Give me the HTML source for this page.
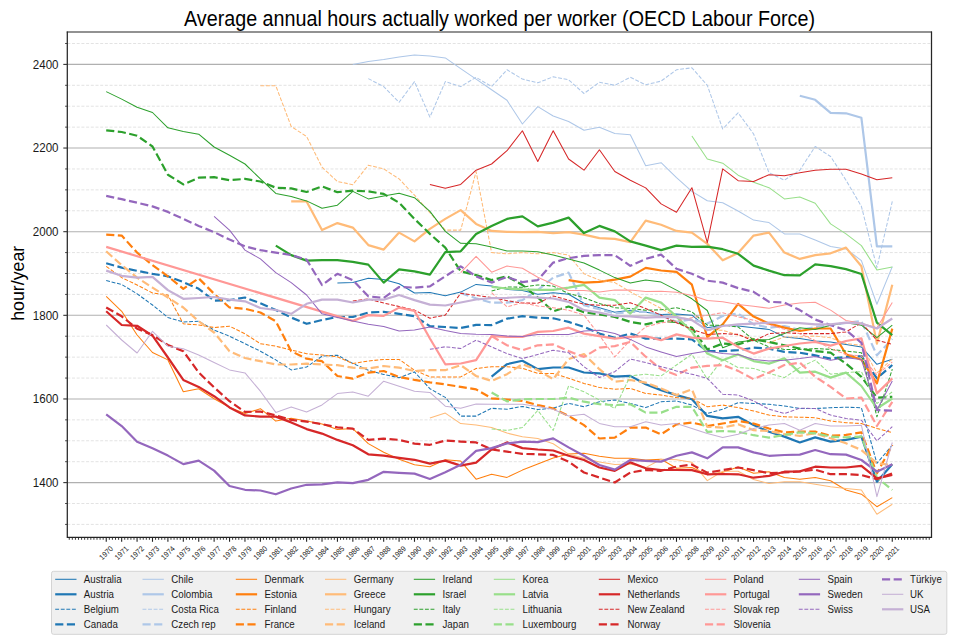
<!DOCTYPE html><html><head><meta charset="utf-8"><style>html,body{margin:0;padding:0;background:#fff;width:960px;height:640px;overflow:hidden}svg{display:block;font-family:"Liberation Sans",sans-serif}</style></head><body>
<svg width="960" height="640" viewBox="0 0 960 640">
<text x="499.5" y="25.5" font-size="21.3" text-anchor="middle" fill="#000" textLength="631" lengthAdjust="spacingAndGlyphs">Average annual hours actually worked per worker (OECD Labour Force)</text>
<line x1="67.3" x2="931.5" y1="524.42" y2="524.42" stroke="#e0e0e0" stroke-width="0.9" stroke-dasharray="3 1.7"/>
<line x1="67.3" x2="931.5" y1="503.51" y2="503.51" stroke="#e0e0e0" stroke-width="0.9" stroke-dasharray="3 1.7"/>
<line x1="67.3" x2="931.5" y1="461.69" y2="461.69" stroke="#e0e0e0" stroke-width="0.9" stroke-dasharray="3 1.7"/>
<line x1="67.3" x2="931.5" y1="440.78" y2="440.78" stroke="#e0e0e0" stroke-width="0.9" stroke-dasharray="3 1.7"/>
<line x1="67.3" x2="931.5" y1="419.87" y2="419.87" stroke="#e0e0e0" stroke-width="0.9" stroke-dasharray="3 1.7"/>
<line x1="67.3" x2="931.5" y1="378.05" y2="378.05" stroke="#e0e0e0" stroke-width="0.9" stroke-dasharray="3 1.7"/>
<line x1="67.3" x2="931.5" y1="357.14" y2="357.14" stroke="#e0e0e0" stroke-width="0.9" stroke-dasharray="3 1.7"/>
<line x1="67.3" x2="931.5" y1="336.23" y2="336.23" stroke="#e0e0e0" stroke-width="0.9" stroke-dasharray="3 1.7"/>
<line x1="67.3" x2="931.5" y1="294.41" y2="294.41" stroke="#e0e0e0" stroke-width="0.9" stroke-dasharray="3 1.7"/>
<line x1="67.3" x2="931.5" y1="273.50" y2="273.50" stroke="#e0e0e0" stroke-width="0.9" stroke-dasharray="3 1.7"/>
<line x1="67.3" x2="931.5" y1="252.59" y2="252.59" stroke="#e0e0e0" stroke-width="0.9" stroke-dasharray="3 1.7"/>
<line x1="67.3" x2="931.5" y1="210.77" y2="210.77" stroke="#e0e0e0" stroke-width="0.9" stroke-dasharray="3 1.7"/>
<line x1="67.3" x2="931.5" y1="189.86" y2="189.86" stroke="#e0e0e0" stroke-width="0.9" stroke-dasharray="3 1.7"/>
<line x1="67.3" x2="931.5" y1="168.95" y2="168.95" stroke="#e0e0e0" stroke-width="0.9" stroke-dasharray="3 1.7"/>
<line x1="67.3" x2="931.5" y1="127.13" y2="127.13" stroke="#e0e0e0" stroke-width="0.9" stroke-dasharray="3 1.7"/>
<line x1="67.3" x2="931.5" y1="106.22" y2="106.22" stroke="#e0e0e0" stroke-width="0.9" stroke-dasharray="3 1.7"/>
<line x1="67.3" x2="931.5" y1="85.31" y2="85.31" stroke="#e0e0e0" stroke-width="0.9" stroke-dasharray="3 1.7"/>
<line x1="67.3" x2="931.5" y1="43.49" y2="43.49" stroke="#e0e0e0" stroke-width="0.9" stroke-dasharray="3 1.7"/>
<line x1="67.3" x2="931.5" y1="482.60" y2="482.60" stroke="#b0b0b0" stroke-width="1.1"/>
<line x1="67.3" x2="931.5" y1="398.96" y2="398.96" stroke="#b0b0b0" stroke-width="1.1"/>
<line x1="67.3" x2="931.5" y1="315.32" y2="315.32" stroke="#b0b0b0" stroke-width="1.1"/>
<line x1="67.3" x2="931.5" y1="231.68" y2="231.68" stroke="#b0b0b0" stroke-width="1.1"/>
<line x1="67.3" x2="931.5" y1="148.04" y2="148.04" stroke="#b0b0b0" stroke-width="1.1"/>
<line x1="67.3" x2="931.5" y1="64.40" y2="64.40" stroke="#b0b0b0" stroke-width="1.1"/>
<defs><clipPath id="c"><rect x="67.3" y="32.2" width="864.2" height="505.1"/></clipPath></defs>
<g clip-path="url(#c)" fill="none" stroke-linejoin="round" stroke-linecap="butt">
<polyline points="337.4,283.1 352.8,282.6 368.3,278.3 383.7,279.6 399.1,283.8 414.5,293.0 429.9,292.6 445.3,295.8 460.7,292.1 476.1,284.4 491.6,286.1 507.0,289.3 522.4,290.5 537.8,294.3 553.2,292.7 568.6,294.3 584.0,303.2 599.4,307.7 614.8,312.2 630.3,310.2 645.7,312.2 661.1,314.4 676.5,313.9 691.9,315.2 707.3,327.7 722.7,325.2 738.1,326.0 753.6,327.7 769.0,329.4 784.4,336.9 799.8,338.6 815.2,341.1 830.6,341.9 846.0,344.4 861.4,346.9 876.9,364.3 892.3,359.3" stroke="#1f77b4" stroke-width="1.05"/>
<polyline points="491.6,376.7 507.0,364.2 522.4,360.8 537.8,369.2 553.2,367.5 568.6,367.5 584.0,372.5 599.4,373.4 614.8,376.7 630.3,375.9 645.7,384.2 661.1,390.1 676.5,395.1 691.9,399.3 707.3,415.9 722.7,418.4 738.1,416.8 753.6,425.1 769.0,431.8 784.4,436.6 799.8,442.5 815.2,437.4 830.6,441.6 846.0,439.9 861.4,436.6 876.9,481.7 892.3,464.2" stroke="#1f77b4" stroke-width="2.20"/>
<polyline points="106.2,280.6 121.7,284.5 137.1,293.8 152.5,305.0 167.9,317.5 183.3,322.0 198.7,321.3 214.1,330.0 229.5,336.2 245.0,343.7 260.4,351.2 275.8,359.9 291.2,369.9 306.6,367.0 322.0,356.2 337.4,355.2 352.8,363.5 368.3,370.2 383.7,374.4 399.1,377.7 414.5,371.9 429.9,388.7 445.3,397.4 460.7,416.1 476.1,416.1 491.6,408.3 507.0,409.3 522.4,406.4 537.8,409.6 553.2,408.1 568.6,403.4 584.0,406.7 599.4,401.7 614.8,400.0 630.3,403.4 645.7,407.6 661.1,401.8 676.5,400.9 691.9,405.1 707.3,413.5 722.7,409.3 738.1,402.6 753.6,403.4 769.0,404.3 784.4,406.0 799.8,408.5 815.2,408.5 830.6,407.7 846.0,407.2 861.4,407.7 876.9,463.3 892.3,445.0" stroke="#1f77b4" stroke-width="1.05" stroke-dasharray="3.89 1.68"/>
<polyline points="106.2,263.3 121.7,267.6 137.1,270.8 152.5,273.8 167.9,276.3 183.3,282.1 198.7,288.8 214.1,300.6 229.5,300.1 245.0,297.5 260.4,303.3 275.8,310.0 291.2,317.5 306.6,323.8 322.0,320.0 337.4,317.0 352.8,317.0 368.3,312.5 383.7,311.8 399.1,313.8 414.5,316.3 429.9,326.2 445.3,327.0 460.7,328.0 476.1,324.9 491.6,325.1 507.0,318.7 522.4,316.2 537.8,317.6 553.2,318.3 568.6,321.9 584.0,326.9 599.4,333.6 614.8,337.7 630.3,333.6 645.7,338.6 661.1,338.6 676.5,338.6 691.9,339.4 707.3,351.1 722.7,351.1 738.1,350.2 753.6,347.7 769.0,348.6 784.4,351.9 799.8,352.7 815.2,355.3 830.6,358.6 846.0,356.9 861.4,356.1 876.9,378.4 892.3,365.0" stroke="#1f77b4" stroke-width="2.20" stroke-dasharray="8.14 3.52"/>
<polyline points="352.8,64.6 368.3,61.6 383.7,59.6 399.1,57.1 414.5,54.9 429.9,56.1 445.3,57.9 460.7,68.6 476.1,79.1 491.6,89.8 507.0,100.3 522.4,124.0 537.8,106.6 553.2,116.0 568.6,121.5 584.0,130.3 599.4,127.3 614.8,133.5 630.3,134.7 645.7,165.7 661.1,162.7 676.5,177.7 691.9,191.4 707.3,200.7 722.7,202.7 738.1,211.0 753.6,220.1 769.0,222.6 784.4,233.9 799.8,233.9 815.2,240.1 830.6,246.4 846.0,248.9 861.4,260.6 876.9,304.3 892.3,266.6" stroke="#aec7e8" stroke-width="1.05"/>
<polyline points="799.8,95.8 815.2,99.8 830.6,112.8 846.0,113.3 861.4,117.8 876.9,246.4 892.3,246.4" stroke="#aec7e8" stroke-width="2.20"/>
<polyline points="368.3,78.6 383.7,86.6 399.1,102.3 414.5,81.6 429.9,117.1 445.3,81.6 460.7,86.6 476.1,77.3 491.6,86.6 507.0,69.8 522.4,79.1 537.8,82.8 553.2,76.8 568.6,79.8 584.0,93.5 599.4,82.3 614.8,85.3 630.3,77.3 645.7,84.8 661.1,81.1 676.5,69.8 691.9,67.8 707.3,85.3 722.7,129.0 738.1,112.8 753.6,134.0 769.0,172.7 784.4,180.2 799.8,170.2 815.2,146.5 830.6,156.5 846.0,180.2 861.4,206.4 876.9,267.6 892.3,201.4" stroke="#aec7e8" stroke-width="1.05" stroke-dasharray="3.89 1.68"/>
<polyline points="460.7,292.9 476.1,298.4 491.6,302.7 507.0,302.7 522.4,300.2 537.8,290.1 553.2,277.6 568.6,272.6 584.0,305.2 599.4,309.3 614.8,313.5 630.3,311.8 645.7,311.8 661.1,315.2 676.5,321.9 691.9,319.4 707.3,323.6 722.7,316.0 738.1,313.5 753.6,324.4 769.0,327.7 784.4,326.0 799.8,330.0 815.2,327.0 830.6,325.0 846.0,323.0 861.4,321.0 876.9,355.3 892.3,339.0" stroke="#aec7e8" stroke-width="2.20" stroke-dasharray="8.14 3.52"/>
<polyline points="106.2,296.3 121.7,311.3 137.1,335.0 152.5,352.5 167.9,359.9 183.3,391.7 198.7,388.7 214.1,398.7 229.5,407.4 245.0,413.6 260.4,408.7 275.8,421.1 291.2,418.2 306.6,421.1 322.0,424.1 337.4,429.4 352.8,428.6 368.3,443.6 383.7,452.3 399.1,459.3 414.5,464.8 429.9,466.8 445.3,459.8 460.7,461.1 476.1,479.2 491.6,474.2 507.0,477.4 522.4,470.1 537.8,464.1 553.2,458.1 568.6,454.1 584.0,453.3 599.4,456.3 614.8,458.3 630.3,458.3 645.7,460.1 661.1,459.2 676.5,468.3 691.9,467.5 707.3,474.8 722.7,472.2 738.1,467.0 753.6,473.2 769.0,471.7 784.4,477.5 799.8,479.2 815.2,477.5 830.6,480.8 846.0,490.0 861.4,494.2 876.9,506.7 892.3,497.6" stroke="#ff7f0e" stroke-width="1.05"/>
<polyline points="568.6,280.1 584.0,282.6 599.4,281.9 614.8,279.7 630.3,276.6 645.7,267.9 661.1,270.5 676.5,271.9 691.9,284.7 707.3,337.2 722.7,324.3 738.1,303.8 753.6,316.6 769.0,323.6 784.4,327.6 799.8,331.0 815.2,328.5 830.6,328.5 846.0,354.3 861.4,359.7 876.9,383.4 892.3,328.6" stroke="#ff7f0e" stroke-width="2.20"/>
<polyline points="106.2,266.3 121.7,277.6 137.1,285.0 152.5,293.0 167.9,295.0 183.3,323.8 198.7,325.0 214.1,327.5 229.5,326.2 245.0,333.8 260.4,343.7 275.8,346.2 291.2,350.0 306.6,353.7 322.0,355.0 337.4,356.8 352.8,363.5 368.3,361.0 383.7,359.4 399.1,359.4 414.5,370.2 429.9,376.9 445.3,376.9 460.7,376.9 476.1,368.5 491.6,366.7 507.0,366.7 522.4,368.3 537.8,373.4 553.2,373.4 568.6,378.3 584.0,383.4 599.4,387.5 614.8,389.2 630.3,388.4 645.7,393.4 661.1,395.1 676.5,397.6 691.9,398.4 707.3,406.8 722.7,405.1 738.1,407.6 753.6,411.0 769.0,415.1 784.4,416.8 799.8,417.2 815.2,417.7 830.6,421.0 846.0,422.7 861.4,423.5 876.9,428.4 892.3,432.5" stroke="#ff7f0e" stroke-width="1.05" stroke-dasharray="3.89 1.68"/>
<polyline points="106.2,234.6 121.7,235.6 137.1,252.6 152.5,265.1 167.9,276.3 183.3,288.8 198.7,278.3 214.1,293.8 229.5,307.5 245.0,308.8 260.4,312.5 275.8,321.3 291.2,351.2 306.6,358.7 322.0,361.2 337.4,376.0 352.8,378.6 368.3,372.7 383.7,371.0 399.1,376.9 414.5,379.9 429.9,382.4 445.3,384.4 460.7,386.9 476.1,389.4 491.6,398.3 507.0,399.6 522.4,401.0 537.8,405.0 553.2,408.5 568.6,415.9 584.0,425.1 599.4,438.5 614.8,437.6 630.3,427.6 645.7,427.6 661.1,434.3 676.5,424.3 691.9,422.6 707.3,426.0 722.7,423.5 738.1,421.0 753.6,423.5 769.0,428.5 784.4,432.4 799.8,431.6 815.2,431.6 830.6,435.8 846.0,434.9 861.4,432.4 876.9,473.4 892.3,445.0" stroke="#ff7f0e" stroke-width="2.20" stroke-dasharray="8.14 3.52"/>
<polyline points="429.9,417.9 445.3,413.1 460.7,423.6 476.1,424.9 491.6,427.4 507.0,433.1 522.4,436.8 537.8,438.6 553.2,443.8 568.6,454.1 584.0,458.3 599.4,461.9 614.8,464.6 630.3,464.1 645.7,467.6 661.1,459.2 676.5,459.8 691.9,462.3 707.3,480.6 722.7,471.2 738.1,471.2 753.6,479.5 769.0,483.6 784.4,481.7 799.8,481.7 815.2,484.2 830.6,486.7 846.0,488.4 861.4,490.0 876.9,514.3 892.3,504.2" stroke="#ffbb78" stroke-width="1.05"/>
<polyline points="291.2,201.4 306.6,201.4 322.0,230.1 337.4,223.1 352.8,227.6 368.3,245.1 383.7,249.6 399.1,232.6 414.5,241.4 429.9,228.9 445.3,218.9 460.7,210.1 476.1,223.9 491.6,230.9 507.0,231.9 522.4,232.1 537.8,231.9 553.2,233.1 568.6,232.1 584.0,234.6 599.4,238.1 614.8,238.9 630.3,242.1 645.7,220.6 661.1,224.7 676.5,230.9 691.9,232.6 707.3,243.8 722.7,260.3 738.1,253.1 753.6,235.6 769.0,232.6 784.4,252.6 799.8,258.9 815.2,255.1 830.6,253.3 846.0,247.6 861.4,266.3 876.9,343.6 892.3,284.7" stroke="#ffbb78" stroke-width="2.20"/>
<polyline points="260.4,85.8 275.8,85.8 291.2,126.5 306.6,136.5 322.0,167.2 337.4,181.5 352.8,184.7 368.3,165.2 383.7,168.9 399.1,178.9 414.5,195.2 429.9,212.7 445.3,230.1 460.7,230.1 476.1,171.5 491.6,252.6 507.0,253.8 522.4,252.6 537.8,253.8 553.2,252.6 568.6,255.1 584.0,273.8 599.4,280.1 614.8,282.6 630.3,291.8 645.7,300.2 661.1,308.5 676.5,316.9 691.9,319.4 707.3,330.2 722.7,330.2 738.1,335.2 753.6,338.6 769.0,342.8 784.4,336.9 799.8,336.9 815.2,336.1 830.6,337.7 846.0,343.6 861.4,345.3 876.9,372.9 892.3,359.0" stroke="#ffbb78" stroke-width="1.05" stroke-dasharray="3.89 1.68"/>
<polyline points="106.2,251.3 121.7,265.1 137.1,277.6 152.5,287.6 167.9,297.5 183.3,307.5 198.7,321.3 214.1,332.5 229.5,351.2 245.0,358.0 260.4,361.2 275.8,364.5 291.2,364.5 306.6,363.7 322.0,364.5 337.4,365.2 352.8,367.7 368.3,368.5 383.7,366.0 399.1,367.7 414.5,371.0 429.9,370.2 445.3,370.2 460.7,365.2 476.1,376.0 491.6,380.9 507.0,374.2 522.4,364.2 537.8,370.0 553.2,379.2 568.6,359.1 584.0,354.1 599.4,369.2 614.8,381.7 630.3,380.0 645.7,382.6 661.1,388.4 676.5,395.1 691.9,389.3 707.3,426.8 722.7,427.6 738.1,424.3 753.6,430.2 769.0,431.0 784.4,434.1 799.8,435.8 815.2,433.3 830.6,438.3 846.0,443.3 861.4,450.0 876.9,463.3 892.3,465.0" stroke="#ffbb78" stroke-width="2.20" stroke-dasharray="8.14 3.52"/>
<polyline points="106.2,91.6 121.7,99.1 137.1,107.3 152.5,112.5 167.9,127.8 183.3,131.5 198.7,134.2 214.1,147.0 229.5,155.2 245.0,164.0 260.4,178.9 275.8,193.4 291.2,196.4 306.6,200.9 322.0,208.2 337.4,205.2 352.8,191.4 368.3,198.9 383.7,195.9 399.1,193.2 414.5,197.7 429.9,211.4 445.3,231.4 460.7,243.3 476.1,243.8 491.6,247.1 507.0,250.9 522.4,250.9 537.8,251.8 553.2,255.1 568.6,258.9 584.0,263.1 599.4,270.1 614.8,277.6 630.3,283.1 645.7,280.1 661.1,282.1 676.5,290.1 691.9,298.8 707.3,310.5 722.7,347.7 738.1,341.9 753.6,340.2 769.0,339.4 784.4,333.6 799.8,327.7 815.2,329.4 830.6,325.2 846.0,322.7 861.4,325.2 876.9,337.7 892.3,325.2" stroke="#2ca02c" stroke-width="1.05"/>
<polyline points="275.8,245.6 291.2,255.1 306.6,260.6 322.0,260.1 337.4,260.1 352.8,261.8 368.3,264.6 383.7,282.6 399.1,269.3 414.5,271.3 429.9,274.6 445.3,252.1 460.7,251.3 476.1,233.9 491.6,225.9 507.0,218.9 522.4,216.4 537.8,226.4 553.2,222.6 568.6,217.6 584.0,233.1 599.4,225.9 614.8,231.4 630.3,241.4 645.7,245.6 661.1,250.1 676.5,245.6 691.9,246.9 707.3,246.6 722.7,249.2 738.1,253.8 753.6,265.6 769.0,270.6 784.4,275.2 799.8,275.3 815.2,264.3 830.6,266.1 846.0,269.1 861.4,274.0 876.9,322.6 892.3,335.1" stroke="#2ca02c" stroke-width="2.20"/>
<polyline points="491.6,290.9 507.0,287.0 522.4,287.2 537.8,284.9 553.2,286.1 568.6,293.5 584.0,297.7 599.4,303.5 614.8,307.7 630.3,308.5 645.7,310.2 661.1,309.8 676.5,307.7 691.9,311.8 707.3,325.2 722.7,325.2 738.1,326.9 753.6,340.2 769.0,346.9 784.4,349.4 799.8,349.4 815.2,348.6 830.6,349.4 846.0,351.1 861.4,352.7 876.9,416.8 892.3,369.2" stroke="#2ca02c" stroke-width="1.05" stroke-dasharray="3.89 1.68"/>
<polyline points="106.2,130.3 121.7,132.0 137.1,135.7 152.5,146.5 167.9,174.7 183.3,184.4 198.7,177.7 214.1,177.2 229.5,180.2 245.0,178.9 260.4,181.5 275.8,187.7 291.2,188.4 306.6,192.0 322.0,186.4 337.4,192.2 352.8,190.7 368.3,191.4 383.7,193.9 399.1,202.7 414.5,218.9 429.9,233.9 445.3,247.6 460.7,271.3 476.1,275.1 491.6,280.1 507.0,276.3 522.4,285.0 537.8,297.5 553.2,311.3 568.6,306.5 584.0,312.2 599.4,314.4 614.8,316.9 630.3,321.9 645.7,324.4 661.1,321.0 676.5,321.9 691.9,327.7 707.3,349.4 722.7,343.6 738.1,344.4 753.6,339.4 769.0,341.9 784.4,345.3 799.8,348.6 815.2,351.1 830.6,352.7 846.0,363.6 861.4,376.8 876.9,397.6 892.3,396.8" stroke="#2ca02c" stroke-width="2.20" stroke-dasharray="8.14 3.52"/>
<polyline points="691.9,136.0 707.3,159.0 722.7,163.2 738.1,175.2 753.6,182.2 769.0,187.7 784.4,198.9 799.8,196.9 815.2,203.2 830.6,223.9 846.0,233.9 861.4,245.6 876.9,269.9 892.3,267.1" stroke="#98df8a" stroke-width="1.05"/>
<polyline points="491.6,286.9 507.0,288.5 522.4,289.4 537.8,289.9 553.2,289.8 568.6,287.6 584.0,284.9 599.4,297.6 614.8,300.1 630.3,313.6 645.7,297.6 661.1,302.6 676.5,316.6 691.9,331.8 707.3,353.6 722.7,360.3 738.1,354.4 753.6,361.1 769.0,363.6 784.4,358.4 799.8,372.6 815.2,371.7 830.6,377.6 846.0,372.6 861.4,386.0 876.9,408.5 892.3,398.5" stroke="#98df8a" stroke-width="2.20"/>
<polyline points="491.6,428.9 507.0,430.4 522.4,427.5 537.8,410.4 553.2,430.4 568.6,385.9 584.0,391.7 599.4,400.0 614.8,408.4 630.3,375.9 645.7,374.2 661.1,375.9 676.5,365.0 691.9,354.2 707.3,379.2 722.7,359.2 738.1,367.6 753.6,368.4 769.0,373.4 784.4,377.6 799.8,367.6 815.2,360.1 830.6,374.2 846.0,372.6 861.4,371.7 876.9,403.5 892.3,391.8" stroke="#98df8a" stroke-width="1.05" stroke-dasharray="3.89 1.68"/>
<polyline points="491.6,392.5 507.0,401.4 522.4,399.3 537.8,399.0 553.2,399.0 568.6,397.6 584.0,401.7 599.4,404.2 614.8,405.1 630.3,404.2 645.7,412.6 661.1,412.6 676.5,406.8 691.9,406.8 707.3,431.8 722.7,431.0 738.1,431.8 753.6,435.2 769.0,437.6 784.4,434.9 799.8,432.4 815.2,433.3 830.6,436.6 846.0,437.4 861.4,436.6 876.9,477.5 892.3,490.0" stroke="#98df8a" stroke-width="2.20" stroke-dasharray="8.14 3.52"/>
<polyline points="429.9,184.4 445.3,188.2 460.7,184.4 476.1,170.2 491.6,164.0 507.0,150.7 522.4,130.8 537.8,161.5 553.2,130.8 568.6,159.0 584.0,170.2 599.4,149.8 614.8,171.5 630.3,180.2 645.7,187.9 661.1,203.9 676.5,212.2 691.9,187.7 707.3,242.6 722.7,168.9 738.1,180.7 753.6,181.5 769.0,174.7 784.4,175.7 799.8,172.7 815.2,170.2 830.6,169.2 846.0,169.2 861.4,174.0 876.9,179.7 892.3,177.7" stroke="#d62728" stroke-width="1.05"/>
<polyline points="106.2,311.3 121.7,325.0 137.1,325.8 152.5,335.7 167.9,357.5 183.3,379.9 198.7,386.9 214.1,396.2 229.5,407.4 245.0,415.4 260.4,416.6 275.8,416.6 291.2,422.4 306.6,429.1 322.0,433.6 337.4,439.9 352.8,445.3 368.3,454.3 383.7,455.6 399.1,457.8 414.5,459.8 429.9,463.6 445.3,460.6 460.7,465.6 476.1,462.7 491.6,449.3 507.0,442.4 522.4,448.1 537.8,449.5 553.2,450.5 568.6,455.8 584.0,460.0 599.4,467.5 614.8,470.8 630.3,462.4 645.7,468.3 661.1,470.0 676.5,470.0 691.9,470.1 707.3,474.3 722.7,474.0 738.1,474.3 753.6,477.7 769.0,475.9 784.4,471.7 799.8,471.4 815.2,466.7 830.6,467.5 846.0,467.5 861.4,465.8 876.9,478.3 892.3,475.0" stroke="#d62728" stroke-width="2.20"/>
<polyline points="352.8,301.1 368.3,299.0 383.7,303.0 399.1,306.5 414.5,310.1 429.9,318.2 445.3,315.1 460.7,293.2 476.1,295.5 491.6,297.4 507.0,300.7 522.4,303.0 537.8,303.2 553.2,296.0 568.6,300.2 584.0,304.3 599.4,305.2 614.8,305.2 630.3,302.7 645.7,308.5 661.1,315.2 676.5,322.7 691.9,329.4 707.3,334.4 722.7,333.6 738.1,334.4 753.6,341.1 769.0,333.6 784.4,332.7 799.8,333.6 815.2,333.6 830.6,333.6 846.0,331.9 861.4,322.7 876.9,340.2 892.3,344.4" stroke="#d62728" stroke-width="1.05" stroke-dasharray="3.89 1.68"/>
<polyline points="106.2,307.5 121.7,316.3 137.1,328.7 152.5,335.0 167.9,345.0 183.3,351.2 198.7,372.4 214.1,387.4 229.5,401.2 245.0,411.9 260.4,411.6 275.8,415.4 291.2,419.9 306.6,421.6 322.0,424.1 337.4,427.4 352.8,428.6 368.3,439.9 383.7,438.6 399.1,439.9 414.5,443.6 429.9,444.8 445.3,440.6 460.7,441.6 476.1,442.4 491.6,449.5 507.0,451.6 522.4,453.9 537.8,454.3 553.2,454.9 568.6,461.6 584.0,472.5 599.4,477.5 614.8,482.5 630.3,472.5 645.7,470.0 661.1,470.8 676.5,466.6 691.9,464.6 707.3,472.7 722.7,470.1 738.1,467.5 753.6,470.1 769.0,473.2 784.4,472.5 799.8,471.4 815.2,469.7 830.6,474.2 846.0,474.2 861.4,475.0 876.9,479.2 892.3,473.4" stroke="#d62728" stroke-width="2.20" stroke-dasharray="8.14 3.52"/>
<polyline points="460.7,272.6 476.1,256.4 491.6,272.2 507.0,266.1 522.4,268.3 537.8,277.2 553.2,284.2 568.6,290.4 584.0,290.4 599.4,291.9 614.8,290.1 630.3,290.1 645.7,291.4 661.1,291.3 676.5,292.2 691.9,295.5 707.3,300.5 722.7,301.8 738.1,304.5 753.6,306.3 769.0,308.3 784.4,305.1 799.8,302.9 815.2,302.2 830.6,310.1 846.0,320.5 861.4,323.2 876.9,327.7 892.3,302.6" stroke="#ff9896" stroke-width="1.05"/>
<polyline points="106.2,246.9 352.8,320.9 368.3,315.1 383.7,315.9 399.1,307.6 414.5,310.9 429.9,338.5 445.3,364.3 460.7,363.5 476.1,360.2 491.6,336.1 507.0,336.9 522.4,336.9 537.8,331.9 553.2,331.0 568.6,327.7 584.0,333.6 599.4,336.1 614.8,338.6 630.3,336.9 645.7,336.1 661.1,340.2 676.5,334.4 691.9,337.7 707.3,338.6 722.7,337.7 738.1,346.9 753.6,353.6 769.0,348.6 784.4,346.0 799.8,343.5 815.2,342.0 830.6,345.6 846.0,341.0 861.4,338.4 876.9,393.4 892.3,378.4" stroke="#ff9896" stroke-width="2.20"/>
<polyline points="491.6,292.7 507.0,306.8 522.4,302.7 537.8,306.0 553.2,307.7 568.6,310.2 584.0,315.2 599.4,335.2 614.8,356.9 630.3,340.2 645.7,326.9 661.1,322.7 676.5,321.0 691.9,317.7 707.3,315.2 722.7,312.7 738.1,316.9 753.6,320.2 799.8,333.7 815.2,340.6 830.6,348.6 846.0,354.4 861.4,356.0 876.9,375.0 892.3,361.9" stroke="#ff9896" stroke-width="1.05" stroke-dasharray="3.89 1.68"/>
<polyline points="491.6,336.1 507.0,345.3 522.4,350.2 537.8,345.3 553.2,344.4 568.6,351.1 584.0,356.9 599.4,347.7 614.8,346.1 630.3,341.9 645.7,356.7 661.1,369.2 676.5,375.0 691.9,367.6 707.3,365.9 722.7,365.0 738.1,370.9 753.6,379.2 769.0,372.5 784.4,365.0 799.8,362.6 815.2,376.8 830.6,386.8 846.0,398.5 861.4,397.6 876.9,426.0 892.3,401.8" stroke="#ff9896" stroke-width="2.20" stroke-dasharray="8.14 3.52"/>
<polyline points="214.1,216.4 229.5,230.1 245.0,250.1 260.4,258.9 275.8,272.6 291.2,282.6 306.6,295.0 322.0,313.8 337.4,317.6 352.8,320.9 368.3,324.3 383.7,326.4 399.1,331.0 414.5,330.1 429.9,327.1 445.3,330.5 460.7,333.5 476.1,334.3 491.6,334.4 507.0,336.1 522.4,336.6 537.8,334.4 553.2,334.4 568.6,334.4 584.0,331.0 599.4,330.2 614.8,333.6 630.3,339.4 645.7,346.9 661.1,351.9 676.5,356.6 691.9,353.6 707.3,351.1 722.7,353.6 738.1,354.4 753.6,359.4 769.0,361.1 784.4,360.3 799.8,358.6 815.2,356.4 830.6,360.3 846.0,357.8 861.4,359.4 876.9,410.1 892.3,380.9" stroke="#9467bd" stroke-width="1.05"/>
<polyline points="106.2,414.3 121.7,426.1 137.1,441.7 152.5,448.3 167.9,455.6 183.3,464.1 198.7,460.6 214.1,470.6 229.5,486.0 245.0,489.8 260.4,490.5 275.8,494.3 291.2,488.5 306.6,484.8 322.0,484.3 337.4,482.3 352.8,483.1 368.3,479.8 383.7,471.8 399.1,472.8 414.5,473.6 429.9,479.0 445.3,472.3 460.7,464.8 476.1,450.9 491.6,448.1 507.0,443.4 522.4,441.7 537.8,442.1 553.2,438.4 568.6,447.4 584.0,455.8 599.4,465.0 614.8,469.6 630.3,460.0 645.7,460.8 661.1,461.6 676.5,455.8 691.9,452.4 707.3,458.3 722.7,447.4 738.1,447.4 753.6,452.4 769.0,455.8 784.4,455.0 799.8,454.6 815.2,450.0 830.6,454.2 846.0,454.6 861.4,460.0 876.9,471.7 892.3,464.2" stroke="#9467bd" stroke-width="2.20"/>
<polyline points="429.9,349.3 445.3,346.8 460.7,348.5 476.1,340.2 491.6,346.9 507.0,353.6 522.4,358.6 537.8,354.4 553.2,350.2 568.6,352.7 584.0,366.7 599.4,377.5 614.8,371.7 630.3,359.1 645.7,362.5 661.1,366.7 676.5,370.9 691.9,374.2 707.3,378.4 722.7,394.2 738.1,395.1 753.6,400.9 769.0,409.3 784.4,413.5 799.8,408.2 815.2,408.5 830.6,415.1 846.0,418.5 861.4,420.2 876.9,440.8 892.3,426.7" stroke="#9467bd" stroke-width="1.05" stroke-dasharray="3.89 1.68"/>
<polyline points="106.2,195.9 121.7,199.2 137.1,202.7 152.5,206.4 167.9,211.9 183.3,218.9 198.7,225.9 214.1,232.1 229.5,239.6 245.0,246.4 260.4,250.1 275.8,252.6 291.2,255.1 306.6,259.6 322.0,285.0 337.4,273.8 352.8,280.1 368.3,296.3 383.7,298.0 399.1,287.0 414.5,287.6 429.9,286.3 445.3,276.3 460.7,266.3 476.1,276.3 491.6,282.6 507.0,277.1 522.4,282.1 537.8,280.1 553.2,262.6 568.6,258.1 584.0,255.9 599.4,255.1 614.8,255.1 630.3,265.8 645.7,258.9 661.1,254.6 676.5,268.8 691.9,273.8 707.3,280.7 722.7,282.6 738.1,288.1 753.6,291.8 769.0,301.8 784.4,302.6 799.8,310.1 815.2,319.5 830.6,325.1 846.0,330.2 861.4,342.8 876.9,410.1 892.3,410.6" stroke="#9467bd" stroke-width="2.20" stroke-dasharray="8.14 3.52"/>
<polyline points="106.2,325.0 121.7,340.0 137.1,353.0 152.5,331.3 167.9,346.2 183.3,348.7 198.7,355.0 214.1,362.5 229.5,369.9 245.0,372.9 260.4,391.2 275.8,412.4 291.2,406.9 306.6,411.9 322.0,404.9 337.4,393.6 352.8,391.9 368.3,396.2 383.7,381.2 399.1,386.2 414.5,391.2 429.9,392.4 445.3,406.2 460.7,408.2 476.1,404.1 491.6,404.3 507.0,404.3 522.4,404.3 537.8,406.4 553.2,409.3 568.6,415.9 584.0,414.3 599.4,423.4 614.8,426.8 630.3,426.8 645.7,421.8 661.1,425.1 676.5,423.5 691.9,428.5 707.3,433.5 722.7,437.6 738.1,434.3 753.6,428.5 769.0,425.1 784.4,423.5 799.8,430.2 815.2,423.5 830.6,426.0 846.0,426.0 861.4,425.2 876.9,496.7 892.3,442.5" stroke="#c5b0d5" stroke-width="1.05"/>
<polyline points="106.2,270.6 121.7,275.8 137.1,277.6 152.5,276.8 167.9,290.1 183.3,298.8 198.7,298.0 214.1,297.0 229.5,299.6 245.0,301.3 260.4,308.0 275.8,310.0 291.2,313.8 306.6,303.8 322.0,299.6 337.4,299.6 352.8,302.5 368.3,299.6 383.7,299.6 399.1,295.0 414.5,300.1 429.9,304.6 445.3,305.5 460.7,302.5 476.1,299.5 491.6,298.2 507.0,297.8 522.4,297.0 537.8,297.6 553.2,298.5 568.6,301.9 584.0,310.2 599.4,312.7 614.8,316.0 630.3,316.5 645.7,317.7 661.1,316.9 676.5,317.2 691.9,320.2 707.3,330.2 722.7,326.0 738.1,324.4 753.6,323.6 769.0,322.7 784.4,322.7 799.8,323.2 815.2,324.4 830.6,324.4 846.0,322.7 861.4,323.6 876.9,328.5 892.3,318.5" stroke="#c5b0d5" stroke-width="2.20"/>
</g>
<path d="M67.30 32.20 V537.30 H931.50 V32.20" fill="none" stroke="#262626" stroke-width="1.25" stroke-linejoin="miter" stroke-linecap="square"/>
<line x1="67.30" x2="931.50" y1="32.0" y2="32.0" stroke="#262626" stroke-width="1.1" stroke-linecap="square"/>
<line x1="65.1" x2="67.3" y1="524.42" y2="524.42" stroke="#333" stroke-width="0.9"/>
<line x1="65.1" x2="67.3" y1="503.51" y2="503.51" stroke="#333" stroke-width="0.9"/>
<line x1="63.3" x2="67.3" y1="482.60" y2="482.60" stroke="#333" stroke-width="1.1"/>
<text x="58.5" y="486.80" font-size="12.6" text-anchor="end" textLength="25.7" lengthAdjust="spacingAndGlyphs" fill="#1a1a1a">1400</text>
<line x1="65.1" x2="67.3" y1="461.69" y2="461.69" stroke="#333" stroke-width="0.9"/>
<line x1="65.1" x2="67.3" y1="440.78" y2="440.78" stroke="#333" stroke-width="0.9"/>
<line x1="65.1" x2="67.3" y1="419.87" y2="419.87" stroke="#333" stroke-width="0.9"/>
<line x1="63.3" x2="67.3" y1="398.96" y2="398.96" stroke="#333" stroke-width="1.1"/>
<text x="58.5" y="403.16" font-size="12.6" text-anchor="end" textLength="25.7" lengthAdjust="spacingAndGlyphs" fill="#1a1a1a">1600</text>
<line x1="65.1" x2="67.3" y1="378.05" y2="378.05" stroke="#333" stroke-width="0.9"/>
<line x1="65.1" x2="67.3" y1="357.14" y2="357.14" stroke="#333" stroke-width="0.9"/>
<line x1="65.1" x2="67.3" y1="336.23" y2="336.23" stroke="#333" stroke-width="0.9"/>
<line x1="63.3" x2="67.3" y1="315.32" y2="315.32" stroke="#333" stroke-width="1.1"/>
<text x="58.5" y="319.52" font-size="12.6" text-anchor="end" textLength="25.7" lengthAdjust="spacingAndGlyphs" fill="#1a1a1a">1800</text>
<line x1="65.1" x2="67.3" y1="294.41" y2="294.41" stroke="#333" stroke-width="0.9"/>
<line x1="65.1" x2="67.3" y1="273.50" y2="273.50" stroke="#333" stroke-width="0.9"/>
<line x1="65.1" x2="67.3" y1="252.59" y2="252.59" stroke="#333" stroke-width="0.9"/>
<line x1="63.3" x2="67.3" y1="231.68" y2="231.68" stroke="#333" stroke-width="1.1"/>
<text x="58.5" y="235.88" font-size="12.6" text-anchor="end" textLength="25.7" lengthAdjust="spacingAndGlyphs" fill="#1a1a1a">2000</text>
<line x1="65.1" x2="67.3" y1="210.77" y2="210.77" stroke="#333" stroke-width="0.9"/>
<line x1="65.1" x2="67.3" y1="189.86" y2="189.86" stroke="#333" stroke-width="0.9"/>
<line x1="65.1" x2="67.3" y1="168.95" y2="168.95" stroke="#333" stroke-width="0.9"/>
<line x1="63.3" x2="67.3" y1="148.04" y2="148.04" stroke="#333" stroke-width="1.1"/>
<text x="58.5" y="152.24" font-size="12.6" text-anchor="end" textLength="25.7" lengthAdjust="spacingAndGlyphs" fill="#1a1a1a">2200</text>
<line x1="65.1" x2="67.3" y1="127.13" y2="127.13" stroke="#333" stroke-width="0.9"/>
<line x1="65.1" x2="67.3" y1="106.22" y2="106.22" stroke="#333" stroke-width="0.9"/>
<line x1="65.1" x2="67.3" y1="85.31" y2="85.31" stroke="#333" stroke-width="0.9"/>
<line x1="63.3" x2="67.3" y1="64.40" y2="64.40" stroke="#333" stroke-width="1.1"/>
<text x="58.5" y="68.60" font-size="12.6" text-anchor="end" textLength="25.7" lengthAdjust="spacingAndGlyphs" fill="#1a1a1a">2400</text>
<line x1="65.1" x2="67.3" y1="43.49" y2="43.49" stroke="#333" stroke-width="0.9"/>
<line x1="69.26" x2="69.26" y1="537.3" y2="539.8" stroke="#222" stroke-width="0.9"/>
<line x1="72.34" x2="72.34" y1="537.3" y2="539.8" stroke="#222" stroke-width="0.9"/>
<line x1="75.43" x2="75.43" y1="537.3" y2="539.8" stroke="#222" stroke-width="0.9"/>
<line x1="78.51" x2="78.51" y1="537.3" y2="539.8" stroke="#222" stroke-width="0.9"/>
<line x1="81.59" x2="81.59" y1="537.3" y2="539.8" stroke="#222" stroke-width="0.9"/>
<line x1="84.67" x2="84.67" y1="537.3" y2="539.8" stroke="#222" stroke-width="0.9"/>
<line x1="87.76" x2="87.76" y1="537.3" y2="539.8" stroke="#222" stroke-width="0.9"/>
<line x1="90.84" x2="90.84" y1="537.3" y2="539.8" stroke="#222" stroke-width="0.9"/>
<line x1="93.92" x2="93.92" y1="537.3" y2="539.8" stroke="#222" stroke-width="0.9"/>
<line x1="97.00" x2="97.00" y1="537.3" y2="539.8" stroke="#222" stroke-width="0.9"/>
<line x1="100.09" x2="100.09" y1="537.3" y2="539.8" stroke="#222" stroke-width="0.9"/>
<line x1="103.17" x2="103.17" y1="537.3" y2="539.8" stroke="#222" stroke-width="0.9"/>
<line x1="106.25" x2="106.25" y1="537.3" y2="541.8" stroke="#222" stroke-width="1.1"/>
<line x1="109.33" x2="109.33" y1="537.3" y2="539.8" stroke="#222" stroke-width="0.9"/>
<line x1="112.41" x2="112.41" y1="537.3" y2="539.8" stroke="#222" stroke-width="0.9"/>
<line x1="115.50" x2="115.50" y1="537.3" y2="539.8" stroke="#222" stroke-width="0.9"/>
<line x1="118.58" x2="118.58" y1="537.3" y2="539.8" stroke="#222" stroke-width="0.9"/>
<line x1="121.66" x2="121.66" y1="537.3" y2="541.8" stroke="#222" stroke-width="1.1"/>
<line x1="124.74" x2="124.74" y1="537.3" y2="539.8" stroke="#222" stroke-width="0.9"/>
<line x1="127.83" x2="127.83" y1="537.3" y2="539.8" stroke="#222" stroke-width="0.9"/>
<line x1="130.91" x2="130.91" y1="537.3" y2="539.8" stroke="#222" stroke-width="0.9"/>
<line x1="133.99" x2="133.99" y1="537.3" y2="539.8" stroke="#222" stroke-width="0.9"/>
<line x1="137.07" x2="137.07" y1="537.3" y2="541.8" stroke="#222" stroke-width="1.1"/>
<line x1="140.16" x2="140.16" y1="537.3" y2="539.8" stroke="#222" stroke-width="0.9"/>
<line x1="143.24" x2="143.24" y1="537.3" y2="539.8" stroke="#222" stroke-width="0.9"/>
<line x1="146.32" x2="146.32" y1="537.3" y2="539.8" stroke="#222" stroke-width="0.9"/>
<line x1="149.40" x2="149.40" y1="537.3" y2="539.8" stroke="#222" stroke-width="0.9"/>
<line x1="152.49" x2="152.49" y1="537.3" y2="541.8" stroke="#222" stroke-width="1.1"/>
<line x1="155.57" x2="155.57" y1="537.3" y2="539.8" stroke="#222" stroke-width="0.9"/>
<line x1="158.65" x2="158.65" y1="537.3" y2="539.8" stroke="#222" stroke-width="0.9"/>
<line x1="161.73" x2="161.73" y1="537.3" y2="539.8" stroke="#222" stroke-width="0.9"/>
<line x1="164.82" x2="164.82" y1="537.3" y2="539.8" stroke="#222" stroke-width="0.9"/>
<line x1="167.90" x2="167.90" y1="537.3" y2="541.8" stroke="#222" stroke-width="1.1"/>
<line x1="170.98" x2="170.98" y1="537.3" y2="539.8" stroke="#222" stroke-width="0.9"/>
<line x1="174.06" x2="174.06" y1="537.3" y2="539.8" stroke="#222" stroke-width="0.9"/>
<line x1="177.15" x2="177.15" y1="537.3" y2="539.8" stroke="#222" stroke-width="0.9"/>
<line x1="180.23" x2="180.23" y1="537.3" y2="539.8" stroke="#222" stroke-width="0.9"/>
<line x1="183.31" x2="183.31" y1="537.3" y2="541.8" stroke="#222" stroke-width="1.1"/>
<line x1="186.39" x2="186.39" y1="537.3" y2="539.8" stroke="#222" stroke-width="0.9"/>
<line x1="189.47" x2="189.47" y1="537.3" y2="539.8" stroke="#222" stroke-width="0.9"/>
<line x1="192.56" x2="192.56" y1="537.3" y2="539.8" stroke="#222" stroke-width="0.9"/>
<line x1="195.64" x2="195.64" y1="537.3" y2="539.8" stroke="#222" stroke-width="0.9"/>
<line x1="198.72" x2="198.72" y1="537.3" y2="541.8" stroke="#222" stroke-width="1.1"/>
<line x1="201.80" x2="201.80" y1="537.3" y2="539.8" stroke="#222" stroke-width="0.9"/>
<line x1="204.89" x2="204.89" y1="537.3" y2="539.8" stroke="#222" stroke-width="0.9"/>
<line x1="207.97" x2="207.97" y1="537.3" y2="539.8" stroke="#222" stroke-width="0.9"/>
<line x1="211.05" x2="211.05" y1="537.3" y2="539.8" stroke="#222" stroke-width="0.9"/>
<line x1="214.13" x2="214.13" y1="537.3" y2="541.8" stroke="#222" stroke-width="1.1"/>
<line x1="217.22" x2="217.22" y1="537.3" y2="539.8" stroke="#222" stroke-width="0.9"/>
<line x1="220.30" x2="220.30" y1="537.3" y2="539.8" stroke="#222" stroke-width="0.9"/>
<line x1="223.38" x2="223.38" y1="537.3" y2="539.8" stroke="#222" stroke-width="0.9"/>
<line x1="226.46" x2="226.46" y1="537.3" y2="539.8" stroke="#222" stroke-width="0.9"/>
<line x1="229.55" x2="229.55" y1="537.3" y2="541.8" stroke="#222" stroke-width="1.1"/>
<line x1="232.63" x2="232.63" y1="537.3" y2="539.8" stroke="#222" stroke-width="0.9"/>
<line x1="235.71" x2="235.71" y1="537.3" y2="539.8" stroke="#222" stroke-width="0.9"/>
<line x1="238.79" x2="238.79" y1="537.3" y2="539.8" stroke="#222" stroke-width="0.9"/>
<line x1="241.88" x2="241.88" y1="537.3" y2="539.8" stroke="#222" stroke-width="0.9"/>
<line x1="244.96" x2="244.96" y1="537.3" y2="541.8" stroke="#222" stroke-width="1.1"/>
<line x1="248.04" x2="248.04" y1="537.3" y2="539.8" stroke="#222" stroke-width="0.9"/>
<line x1="251.12" x2="251.12" y1="537.3" y2="539.8" stroke="#222" stroke-width="0.9"/>
<line x1="254.21" x2="254.21" y1="537.3" y2="539.8" stroke="#222" stroke-width="0.9"/>
<line x1="257.29" x2="257.29" y1="537.3" y2="539.8" stroke="#222" stroke-width="0.9"/>
<line x1="260.37" x2="260.37" y1="537.3" y2="541.8" stroke="#222" stroke-width="1.1"/>
<line x1="263.45" x2="263.45" y1="537.3" y2="539.8" stroke="#222" stroke-width="0.9"/>
<line x1="266.53" x2="266.53" y1="537.3" y2="539.8" stroke="#222" stroke-width="0.9"/>
<line x1="269.62" x2="269.62" y1="537.3" y2="539.8" stroke="#222" stroke-width="0.9"/>
<line x1="272.70" x2="272.70" y1="537.3" y2="539.8" stroke="#222" stroke-width="0.9"/>
<line x1="275.78" x2="275.78" y1="537.3" y2="541.8" stroke="#222" stroke-width="1.1"/>
<line x1="278.86" x2="278.86" y1="537.3" y2="539.8" stroke="#222" stroke-width="0.9"/>
<line x1="281.95" x2="281.95" y1="537.3" y2="539.8" stroke="#222" stroke-width="0.9"/>
<line x1="285.03" x2="285.03" y1="537.3" y2="539.8" stroke="#222" stroke-width="0.9"/>
<line x1="288.11" x2="288.11" y1="537.3" y2="539.8" stroke="#222" stroke-width="0.9"/>
<line x1="291.19" x2="291.19" y1="537.3" y2="541.8" stroke="#222" stroke-width="1.1"/>
<line x1="294.28" x2="294.28" y1="537.3" y2="539.8" stroke="#222" stroke-width="0.9"/>
<line x1="297.36" x2="297.36" y1="537.3" y2="539.8" stroke="#222" stroke-width="0.9"/>
<line x1="300.44" x2="300.44" y1="537.3" y2="539.8" stroke="#222" stroke-width="0.9"/>
<line x1="303.52" x2="303.52" y1="537.3" y2="539.8" stroke="#222" stroke-width="0.9"/>
<line x1="306.61" x2="306.61" y1="537.3" y2="541.8" stroke="#222" stroke-width="1.1"/>
<line x1="309.69" x2="309.69" y1="537.3" y2="539.8" stroke="#222" stroke-width="0.9"/>
<line x1="312.77" x2="312.77" y1="537.3" y2="539.8" stroke="#222" stroke-width="0.9"/>
<line x1="315.85" x2="315.85" y1="537.3" y2="539.8" stroke="#222" stroke-width="0.9"/>
<line x1="318.94" x2="318.94" y1="537.3" y2="539.8" stroke="#222" stroke-width="0.9"/>
<line x1="322.02" x2="322.02" y1="537.3" y2="541.8" stroke="#222" stroke-width="1.1"/>
<line x1="325.10" x2="325.10" y1="537.3" y2="539.8" stroke="#222" stroke-width="0.9"/>
<line x1="328.18" x2="328.18" y1="537.3" y2="539.8" stroke="#222" stroke-width="0.9"/>
<line x1="331.27" x2="331.27" y1="537.3" y2="539.8" stroke="#222" stroke-width="0.9"/>
<line x1="334.35" x2="334.35" y1="537.3" y2="539.8" stroke="#222" stroke-width="0.9"/>
<line x1="337.43" x2="337.43" y1="537.3" y2="541.8" stroke="#222" stroke-width="1.1"/>
<line x1="340.51" x2="340.51" y1="537.3" y2="539.8" stroke="#222" stroke-width="0.9"/>
<line x1="343.59" x2="343.59" y1="537.3" y2="539.8" stroke="#222" stroke-width="0.9"/>
<line x1="346.68" x2="346.68" y1="537.3" y2="539.8" stroke="#222" stroke-width="0.9"/>
<line x1="349.76" x2="349.76" y1="537.3" y2="539.8" stroke="#222" stroke-width="0.9"/>
<line x1="352.84" x2="352.84" y1="537.3" y2="541.8" stroke="#222" stroke-width="1.1"/>
<line x1="355.92" x2="355.92" y1="537.3" y2="539.8" stroke="#222" stroke-width="0.9"/>
<line x1="359.01" x2="359.01" y1="537.3" y2="539.8" stroke="#222" stroke-width="0.9"/>
<line x1="362.09" x2="362.09" y1="537.3" y2="539.8" stroke="#222" stroke-width="0.9"/>
<line x1="365.17" x2="365.17" y1="537.3" y2="539.8" stroke="#222" stroke-width="0.9"/>
<line x1="368.25" x2="368.25" y1="537.3" y2="541.8" stroke="#222" stroke-width="1.1"/>
<line x1="371.34" x2="371.34" y1="537.3" y2="539.8" stroke="#222" stroke-width="0.9"/>
<line x1="374.42" x2="374.42" y1="537.3" y2="539.8" stroke="#222" stroke-width="0.9"/>
<line x1="377.50" x2="377.50" y1="537.3" y2="539.8" stroke="#222" stroke-width="0.9"/>
<line x1="380.58" x2="380.58" y1="537.3" y2="539.8" stroke="#222" stroke-width="0.9"/>
<line x1="383.67" x2="383.67" y1="537.3" y2="541.8" stroke="#222" stroke-width="1.1"/>
<line x1="386.75" x2="386.75" y1="537.3" y2="539.8" stroke="#222" stroke-width="0.9"/>
<line x1="389.83" x2="389.83" y1="537.3" y2="539.8" stroke="#222" stroke-width="0.9"/>
<line x1="392.91" x2="392.91" y1="537.3" y2="539.8" stroke="#222" stroke-width="0.9"/>
<line x1="396.00" x2="396.00" y1="537.3" y2="539.8" stroke="#222" stroke-width="0.9"/>
<line x1="399.08" x2="399.08" y1="537.3" y2="541.8" stroke="#222" stroke-width="1.1"/>
<line x1="402.16" x2="402.16" y1="537.3" y2="539.8" stroke="#222" stroke-width="0.9"/>
<line x1="405.24" x2="405.24" y1="537.3" y2="539.8" stroke="#222" stroke-width="0.9"/>
<line x1="408.33" x2="408.33" y1="537.3" y2="539.8" stroke="#222" stroke-width="0.9"/>
<line x1="411.41" x2="411.41" y1="537.3" y2="539.8" stroke="#222" stroke-width="0.9"/>
<line x1="414.49" x2="414.49" y1="537.3" y2="541.8" stroke="#222" stroke-width="1.1"/>
<line x1="417.57" x2="417.57" y1="537.3" y2="539.8" stroke="#222" stroke-width="0.9"/>
<line x1="420.65" x2="420.65" y1="537.3" y2="539.8" stroke="#222" stroke-width="0.9"/>
<line x1="423.74" x2="423.74" y1="537.3" y2="539.8" stroke="#222" stroke-width="0.9"/>
<line x1="426.82" x2="426.82" y1="537.3" y2="539.8" stroke="#222" stroke-width="0.9"/>
<line x1="429.90" x2="429.90" y1="537.3" y2="541.8" stroke="#222" stroke-width="1.1"/>
<line x1="432.98" x2="432.98" y1="537.3" y2="539.8" stroke="#222" stroke-width="0.9"/>
<line x1="436.07" x2="436.07" y1="537.3" y2="539.8" stroke="#222" stroke-width="0.9"/>
<line x1="439.15" x2="439.15" y1="537.3" y2="539.8" stroke="#222" stroke-width="0.9"/>
<line x1="442.23" x2="442.23" y1="537.3" y2="539.8" stroke="#222" stroke-width="0.9"/>
<line x1="445.31" x2="445.31" y1="537.3" y2="541.8" stroke="#222" stroke-width="1.1"/>
<line x1="448.40" x2="448.40" y1="537.3" y2="539.8" stroke="#222" stroke-width="0.9"/>
<line x1="451.48" x2="451.48" y1="537.3" y2="539.8" stroke="#222" stroke-width="0.9"/>
<line x1="454.56" x2="454.56" y1="537.3" y2="539.8" stroke="#222" stroke-width="0.9"/>
<line x1="457.64" x2="457.64" y1="537.3" y2="539.8" stroke="#222" stroke-width="0.9"/>
<line x1="460.73" x2="460.73" y1="537.3" y2="541.8" stroke="#222" stroke-width="1.1"/>
<line x1="463.81" x2="463.81" y1="537.3" y2="539.8" stroke="#222" stroke-width="0.9"/>
<line x1="466.89" x2="466.89" y1="537.3" y2="539.8" stroke="#222" stroke-width="0.9"/>
<line x1="469.97" x2="469.97" y1="537.3" y2="539.8" stroke="#222" stroke-width="0.9"/>
<line x1="473.06" x2="473.06" y1="537.3" y2="539.8" stroke="#222" stroke-width="0.9"/>
<line x1="476.14" x2="476.14" y1="537.3" y2="541.8" stroke="#222" stroke-width="1.1"/>
<line x1="479.22" x2="479.22" y1="537.3" y2="539.8" stroke="#222" stroke-width="0.9"/>
<line x1="482.30" x2="482.30" y1="537.3" y2="539.8" stroke="#222" stroke-width="0.9"/>
<line x1="485.39" x2="485.39" y1="537.3" y2="539.8" stroke="#222" stroke-width="0.9"/>
<line x1="488.47" x2="488.47" y1="537.3" y2="539.8" stroke="#222" stroke-width="0.9"/>
<line x1="491.55" x2="491.55" y1="537.3" y2="541.8" stroke="#222" stroke-width="1.1"/>
<line x1="494.63" x2="494.63" y1="537.3" y2="539.8" stroke="#222" stroke-width="0.9"/>
<line x1="497.71" x2="497.71" y1="537.3" y2="539.8" stroke="#222" stroke-width="0.9"/>
<line x1="500.80" x2="500.80" y1="537.3" y2="539.8" stroke="#222" stroke-width="0.9"/>
<line x1="503.88" x2="503.88" y1="537.3" y2="539.8" stroke="#222" stroke-width="0.9"/>
<line x1="506.96" x2="506.96" y1="537.3" y2="541.8" stroke="#222" stroke-width="1.1"/>
<line x1="510.04" x2="510.04" y1="537.3" y2="539.8" stroke="#222" stroke-width="0.9"/>
<line x1="513.13" x2="513.13" y1="537.3" y2="539.8" stroke="#222" stroke-width="0.9"/>
<line x1="516.21" x2="516.21" y1="537.3" y2="539.8" stroke="#222" stroke-width="0.9"/>
<line x1="519.29" x2="519.29" y1="537.3" y2="539.8" stroke="#222" stroke-width="0.9"/>
<line x1="522.37" x2="522.37" y1="537.3" y2="541.8" stroke="#222" stroke-width="1.1"/>
<line x1="525.46" x2="525.46" y1="537.3" y2="539.8" stroke="#222" stroke-width="0.9"/>
<line x1="528.54" x2="528.54" y1="537.3" y2="539.8" stroke="#222" stroke-width="0.9"/>
<line x1="531.62" x2="531.62" y1="537.3" y2="539.8" stroke="#222" stroke-width="0.9"/>
<line x1="534.70" x2="534.70" y1="537.3" y2="539.8" stroke="#222" stroke-width="0.9"/>
<line x1="537.79" x2="537.79" y1="537.3" y2="541.8" stroke="#222" stroke-width="1.1"/>
<line x1="540.87" x2="540.87" y1="537.3" y2="539.8" stroke="#222" stroke-width="0.9"/>
<line x1="543.95" x2="543.95" y1="537.3" y2="539.8" stroke="#222" stroke-width="0.9"/>
<line x1="547.03" x2="547.03" y1="537.3" y2="539.8" stroke="#222" stroke-width="0.9"/>
<line x1="550.12" x2="550.12" y1="537.3" y2="539.8" stroke="#222" stroke-width="0.9"/>
<line x1="553.20" x2="553.20" y1="537.3" y2="541.8" stroke="#222" stroke-width="1.1"/>
<line x1="556.28" x2="556.28" y1="537.3" y2="539.8" stroke="#222" stroke-width="0.9"/>
<line x1="559.36" x2="559.36" y1="537.3" y2="539.8" stroke="#222" stroke-width="0.9"/>
<line x1="562.45" x2="562.45" y1="537.3" y2="539.8" stroke="#222" stroke-width="0.9"/>
<line x1="565.53" x2="565.53" y1="537.3" y2="539.8" stroke="#222" stroke-width="0.9"/>
<line x1="568.61" x2="568.61" y1="537.3" y2="541.8" stroke="#222" stroke-width="1.1"/>
<line x1="571.69" x2="571.69" y1="537.3" y2="539.8" stroke="#222" stroke-width="0.9"/>
<line x1="574.77" x2="574.77" y1="537.3" y2="539.8" stroke="#222" stroke-width="0.9"/>
<line x1="577.86" x2="577.86" y1="537.3" y2="539.8" stroke="#222" stroke-width="0.9"/>
<line x1="580.94" x2="580.94" y1="537.3" y2="539.8" stroke="#222" stroke-width="0.9"/>
<line x1="584.02" x2="584.02" y1="537.3" y2="541.8" stroke="#222" stroke-width="1.1"/>
<line x1="587.10" x2="587.10" y1="537.3" y2="539.8" stroke="#222" stroke-width="0.9"/>
<line x1="590.19" x2="590.19" y1="537.3" y2="539.8" stroke="#222" stroke-width="0.9"/>
<line x1="593.27" x2="593.27" y1="537.3" y2="539.8" stroke="#222" stroke-width="0.9"/>
<line x1="596.35" x2="596.35" y1="537.3" y2="539.8" stroke="#222" stroke-width="0.9"/>
<line x1="599.43" x2="599.43" y1="537.3" y2="541.8" stroke="#222" stroke-width="1.1"/>
<line x1="602.52" x2="602.52" y1="537.3" y2="539.8" stroke="#222" stroke-width="0.9"/>
<line x1="605.60" x2="605.60" y1="537.3" y2="539.8" stroke="#222" stroke-width="0.9"/>
<line x1="608.68" x2="608.68" y1="537.3" y2="539.8" stroke="#222" stroke-width="0.9"/>
<line x1="611.76" x2="611.76" y1="537.3" y2="539.8" stroke="#222" stroke-width="0.9"/>
<line x1="614.85" x2="614.85" y1="537.3" y2="541.8" stroke="#222" stroke-width="1.1"/>
<line x1="617.93" x2="617.93" y1="537.3" y2="539.8" stroke="#222" stroke-width="0.9"/>
<line x1="621.01" x2="621.01" y1="537.3" y2="539.8" stroke="#222" stroke-width="0.9"/>
<line x1="624.09" x2="624.09" y1="537.3" y2="539.8" stroke="#222" stroke-width="0.9"/>
<line x1="627.18" x2="627.18" y1="537.3" y2="539.8" stroke="#222" stroke-width="0.9"/>
<line x1="630.26" x2="630.26" y1="537.3" y2="541.8" stroke="#222" stroke-width="1.1"/>
<line x1="633.34" x2="633.34" y1="537.3" y2="539.8" stroke="#222" stroke-width="0.9"/>
<line x1="636.42" x2="636.42" y1="537.3" y2="539.8" stroke="#222" stroke-width="0.9"/>
<line x1="639.51" x2="639.51" y1="537.3" y2="539.8" stroke="#222" stroke-width="0.9"/>
<line x1="642.59" x2="642.59" y1="537.3" y2="539.8" stroke="#222" stroke-width="0.9"/>
<line x1="645.67" x2="645.67" y1="537.3" y2="541.8" stroke="#222" stroke-width="1.1"/>
<line x1="648.75" x2="648.75" y1="537.3" y2="539.8" stroke="#222" stroke-width="0.9"/>
<line x1="651.83" x2="651.83" y1="537.3" y2="539.8" stroke="#222" stroke-width="0.9"/>
<line x1="654.92" x2="654.92" y1="537.3" y2="539.8" stroke="#222" stroke-width="0.9"/>
<line x1="658.00" x2="658.00" y1="537.3" y2="539.8" stroke="#222" stroke-width="0.9"/>
<line x1="661.08" x2="661.08" y1="537.3" y2="541.8" stroke="#222" stroke-width="1.1"/>
<line x1="664.16" x2="664.16" y1="537.3" y2="539.8" stroke="#222" stroke-width="0.9"/>
<line x1="667.25" x2="667.25" y1="537.3" y2="539.8" stroke="#222" stroke-width="0.9"/>
<line x1="670.33" x2="670.33" y1="537.3" y2="539.8" stroke="#222" stroke-width="0.9"/>
<line x1="673.41" x2="673.41" y1="537.3" y2="539.8" stroke="#222" stroke-width="0.9"/>
<line x1="676.49" x2="676.49" y1="537.3" y2="541.8" stroke="#222" stroke-width="1.1"/>
<line x1="679.58" x2="679.58" y1="537.3" y2="539.8" stroke="#222" stroke-width="0.9"/>
<line x1="682.66" x2="682.66" y1="537.3" y2="539.8" stroke="#222" stroke-width="0.9"/>
<line x1="685.74" x2="685.74" y1="537.3" y2="539.8" stroke="#222" stroke-width="0.9"/>
<line x1="688.82" x2="688.82" y1="537.3" y2="539.8" stroke="#222" stroke-width="0.9"/>
<line x1="691.91" x2="691.91" y1="537.3" y2="541.8" stroke="#222" stroke-width="1.1"/>
<line x1="694.99" x2="694.99" y1="537.3" y2="539.8" stroke="#222" stroke-width="0.9"/>
<line x1="698.07" x2="698.07" y1="537.3" y2="539.8" stroke="#222" stroke-width="0.9"/>
<line x1="701.15" x2="701.15" y1="537.3" y2="539.8" stroke="#222" stroke-width="0.9"/>
<line x1="704.24" x2="704.24" y1="537.3" y2="539.8" stroke="#222" stroke-width="0.9"/>
<line x1="707.32" x2="707.32" y1="537.3" y2="541.8" stroke="#222" stroke-width="1.1"/>
<line x1="710.40" x2="710.40" y1="537.3" y2="539.8" stroke="#222" stroke-width="0.9"/>
<line x1="713.48" x2="713.48" y1="537.3" y2="539.8" stroke="#222" stroke-width="0.9"/>
<line x1="716.57" x2="716.57" y1="537.3" y2="539.8" stroke="#222" stroke-width="0.9"/>
<line x1="719.65" x2="719.65" y1="537.3" y2="539.8" stroke="#222" stroke-width="0.9"/>
<line x1="722.73" x2="722.73" y1="537.3" y2="541.8" stroke="#222" stroke-width="1.1"/>
<line x1="725.81" x2="725.81" y1="537.3" y2="539.8" stroke="#222" stroke-width="0.9"/>
<line x1="728.89" x2="728.89" y1="537.3" y2="539.8" stroke="#222" stroke-width="0.9"/>
<line x1="731.98" x2="731.98" y1="537.3" y2="539.8" stroke="#222" stroke-width="0.9"/>
<line x1="735.06" x2="735.06" y1="537.3" y2="539.8" stroke="#222" stroke-width="0.9"/>
<line x1="738.14" x2="738.14" y1="537.3" y2="541.8" stroke="#222" stroke-width="1.1"/>
<line x1="741.22" x2="741.22" y1="537.3" y2="539.8" stroke="#222" stroke-width="0.9"/>
<line x1="744.31" x2="744.31" y1="537.3" y2="539.8" stroke="#222" stroke-width="0.9"/>
<line x1="747.39" x2="747.39" y1="537.3" y2="539.8" stroke="#222" stroke-width="0.9"/>
<line x1="750.47" x2="750.47" y1="537.3" y2="539.8" stroke="#222" stroke-width="0.9"/>
<line x1="753.55" x2="753.55" y1="537.3" y2="541.8" stroke="#222" stroke-width="1.1"/>
<line x1="756.64" x2="756.64" y1="537.3" y2="539.8" stroke="#222" stroke-width="0.9"/>
<line x1="759.72" x2="759.72" y1="537.3" y2="539.8" stroke="#222" stroke-width="0.9"/>
<line x1="762.80" x2="762.80" y1="537.3" y2="539.8" stroke="#222" stroke-width="0.9"/>
<line x1="765.88" x2="765.88" y1="537.3" y2="539.8" stroke="#222" stroke-width="0.9"/>
<line x1="768.97" x2="768.97" y1="537.3" y2="541.8" stroke="#222" stroke-width="1.1"/>
<line x1="772.05" x2="772.05" y1="537.3" y2="539.8" stroke="#222" stroke-width="0.9"/>
<line x1="775.13" x2="775.13" y1="537.3" y2="539.8" stroke="#222" stroke-width="0.9"/>
<line x1="778.21" x2="778.21" y1="537.3" y2="539.8" stroke="#222" stroke-width="0.9"/>
<line x1="781.30" x2="781.30" y1="537.3" y2="539.8" stroke="#222" stroke-width="0.9"/>
<line x1="784.38" x2="784.38" y1="537.3" y2="541.8" stroke="#222" stroke-width="1.1"/>
<line x1="787.46" x2="787.46" y1="537.3" y2="539.8" stroke="#222" stroke-width="0.9"/>
<line x1="790.54" x2="790.54" y1="537.3" y2="539.8" stroke="#222" stroke-width="0.9"/>
<line x1="793.63" x2="793.63" y1="537.3" y2="539.8" stroke="#222" stroke-width="0.9"/>
<line x1="796.71" x2="796.71" y1="537.3" y2="539.8" stroke="#222" stroke-width="0.9"/>
<line x1="799.79" x2="799.79" y1="537.3" y2="541.8" stroke="#222" stroke-width="1.1"/>
<line x1="802.87" x2="802.87" y1="537.3" y2="539.8" stroke="#222" stroke-width="0.9"/>
<line x1="805.95" x2="805.95" y1="537.3" y2="539.8" stroke="#222" stroke-width="0.9"/>
<line x1="809.04" x2="809.04" y1="537.3" y2="539.8" stroke="#222" stroke-width="0.9"/>
<line x1="812.12" x2="812.12" y1="537.3" y2="539.8" stroke="#222" stroke-width="0.9"/>
<line x1="815.20" x2="815.20" y1="537.3" y2="541.8" stroke="#222" stroke-width="1.1"/>
<line x1="818.28" x2="818.28" y1="537.3" y2="539.8" stroke="#222" stroke-width="0.9"/>
<line x1="821.37" x2="821.37" y1="537.3" y2="539.8" stroke="#222" stroke-width="0.9"/>
<line x1="824.45" x2="824.45" y1="537.3" y2="539.8" stroke="#222" stroke-width="0.9"/>
<line x1="827.53" x2="827.53" y1="537.3" y2="539.8" stroke="#222" stroke-width="0.9"/>
<line x1="830.61" x2="830.61" y1="537.3" y2="541.8" stroke="#222" stroke-width="1.1"/>
<line x1="833.70" x2="833.70" y1="537.3" y2="539.8" stroke="#222" stroke-width="0.9"/>
<line x1="836.78" x2="836.78" y1="537.3" y2="539.8" stroke="#222" stroke-width="0.9"/>
<line x1="839.86" x2="839.86" y1="537.3" y2="539.8" stroke="#222" stroke-width="0.9"/>
<line x1="842.94" x2="842.94" y1="537.3" y2="539.8" stroke="#222" stroke-width="0.9"/>
<line x1="846.03" x2="846.03" y1="537.3" y2="541.8" stroke="#222" stroke-width="1.1"/>
<line x1="849.11" x2="849.11" y1="537.3" y2="539.8" stroke="#222" stroke-width="0.9"/>
<line x1="852.19" x2="852.19" y1="537.3" y2="539.8" stroke="#222" stroke-width="0.9"/>
<line x1="855.27" x2="855.27" y1="537.3" y2="539.8" stroke="#222" stroke-width="0.9"/>
<line x1="858.36" x2="858.36" y1="537.3" y2="539.8" stroke="#222" stroke-width="0.9"/>
<line x1="861.44" x2="861.44" y1="537.3" y2="541.8" stroke="#222" stroke-width="1.1"/>
<line x1="864.52" x2="864.52" y1="537.3" y2="539.8" stroke="#222" stroke-width="0.9"/>
<line x1="867.60" x2="867.60" y1="537.3" y2="539.8" stroke="#222" stroke-width="0.9"/>
<line x1="870.69" x2="870.69" y1="537.3" y2="539.8" stroke="#222" stroke-width="0.9"/>
<line x1="873.77" x2="873.77" y1="537.3" y2="539.8" stroke="#222" stroke-width="0.9"/>
<line x1="876.85" x2="876.85" y1="537.3" y2="541.8" stroke="#222" stroke-width="1.1"/>
<line x1="879.93" x2="879.93" y1="537.3" y2="539.8" stroke="#222" stroke-width="0.9"/>
<line x1="883.01" x2="883.01" y1="537.3" y2="539.8" stroke="#222" stroke-width="0.9"/>
<line x1="886.10" x2="886.10" y1="537.3" y2="539.8" stroke="#222" stroke-width="0.9"/>
<line x1="889.18" x2="889.18" y1="537.3" y2="539.8" stroke="#222" stroke-width="0.9"/>
<line x1="892.26" x2="892.26" y1="537.3" y2="541.8" stroke="#222" stroke-width="1.1"/>
<line x1="895.34" x2="895.34" y1="537.3" y2="539.8" stroke="#222" stroke-width="0.9"/>
<line x1="898.43" x2="898.43" y1="537.3" y2="539.8" stroke="#222" stroke-width="0.9"/>
<line x1="901.51" x2="901.51" y1="537.3" y2="539.8" stroke="#222" stroke-width="0.9"/>
<line x1="904.59" x2="904.59" y1="537.3" y2="539.8" stroke="#222" stroke-width="0.9"/>
<line x1="907.67" x2="907.67" y1="537.3" y2="539.8" stroke="#222" stroke-width="0.9"/>
<line x1="910.76" x2="910.76" y1="537.3" y2="539.8" stroke="#222" stroke-width="0.9"/>
<line x1="913.84" x2="913.84" y1="537.3" y2="539.8" stroke="#222" stroke-width="0.9"/>
<line x1="916.92" x2="916.92" y1="537.3" y2="539.8" stroke="#222" stroke-width="0.9"/>
<line x1="920.00" x2="920.00" y1="537.3" y2="539.8" stroke="#222" stroke-width="0.9"/>
<line x1="923.09" x2="923.09" y1="537.3" y2="539.8" stroke="#222" stroke-width="0.9"/>
<line x1="926.17" x2="926.17" y1="537.3" y2="539.8" stroke="#222" stroke-width="0.9"/>
<line x1="929.25" x2="929.25" y1="537.3" y2="539.8" stroke="#222" stroke-width="0.9"/>
<text transform="translate(106.25,553) rotate(-45)" font-size="7.6" text-anchor="middle" dominant-baseline="central" textLength="16" lengthAdjust="spacingAndGlyphs" fill="#1a1a1a">1970</text>
<text transform="translate(121.66,553) rotate(-45)" font-size="7.6" text-anchor="middle" dominant-baseline="central" textLength="16" lengthAdjust="spacingAndGlyphs" fill="#1a1a1a">1971</text>
<text transform="translate(137.07,553) rotate(-45)" font-size="7.6" text-anchor="middle" dominant-baseline="central" textLength="16" lengthAdjust="spacingAndGlyphs" fill="#1a1a1a">1972</text>
<text transform="translate(152.49,553) rotate(-45)" font-size="7.6" text-anchor="middle" dominant-baseline="central" textLength="16" lengthAdjust="spacingAndGlyphs" fill="#1a1a1a">1973</text>
<text transform="translate(167.90,553) rotate(-45)" font-size="7.6" text-anchor="middle" dominant-baseline="central" textLength="16" lengthAdjust="spacingAndGlyphs" fill="#1a1a1a">1974</text>
<text transform="translate(183.31,553) rotate(-45)" font-size="7.6" text-anchor="middle" dominant-baseline="central" textLength="16" lengthAdjust="spacingAndGlyphs" fill="#1a1a1a">1975</text>
<text transform="translate(198.72,553) rotate(-45)" font-size="7.6" text-anchor="middle" dominant-baseline="central" textLength="16" lengthAdjust="spacingAndGlyphs" fill="#1a1a1a">1976</text>
<text transform="translate(214.13,553) rotate(-45)" font-size="7.6" text-anchor="middle" dominant-baseline="central" textLength="16" lengthAdjust="spacingAndGlyphs" fill="#1a1a1a">1977</text>
<text transform="translate(229.55,553) rotate(-45)" font-size="7.6" text-anchor="middle" dominant-baseline="central" textLength="16" lengthAdjust="spacingAndGlyphs" fill="#1a1a1a">1978</text>
<text transform="translate(244.96,553) rotate(-45)" font-size="7.6" text-anchor="middle" dominant-baseline="central" textLength="16" lengthAdjust="spacingAndGlyphs" fill="#1a1a1a">1979</text>
<text transform="translate(260.37,553) rotate(-45)" font-size="7.6" text-anchor="middle" dominant-baseline="central" textLength="16" lengthAdjust="spacingAndGlyphs" fill="#1a1a1a">1980</text>
<text transform="translate(275.78,553) rotate(-45)" font-size="7.6" text-anchor="middle" dominant-baseline="central" textLength="16" lengthAdjust="spacingAndGlyphs" fill="#1a1a1a">1981</text>
<text transform="translate(291.19,553) rotate(-45)" font-size="7.6" text-anchor="middle" dominant-baseline="central" textLength="16" lengthAdjust="spacingAndGlyphs" fill="#1a1a1a">1982</text>
<text transform="translate(306.61,553) rotate(-45)" font-size="7.6" text-anchor="middle" dominant-baseline="central" textLength="16" lengthAdjust="spacingAndGlyphs" fill="#1a1a1a">1983</text>
<text transform="translate(322.02,553) rotate(-45)" font-size="7.6" text-anchor="middle" dominant-baseline="central" textLength="16" lengthAdjust="spacingAndGlyphs" fill="#1a1a1a">1984</text>
<text transform="translate(337.43,553) rotate(-45)" font-size="7.6" text-anchor="middle" dominant-baseline="central" textLength="16" lengthAdjust="spacingAndGlyphs" fill="#1a1a1a">1985</text>
<text transform="translate(352.84,553) rotate(-45)" font-size="7.6" text-anchor="middle" dominant-baseline="central" textLength="16" lengthAdjust="spacingAndGlyphs" fill="#1a1a1a">1986</text>
<text transform="translate(368.25,553) rotate(-45)" font-size="7.6" text-anchor="middle" dominant-baseline="central" textLength="16" lengthAdjust="spacingAndGlyphs" fill="#1a1a1a">1987</text>
<text transform="translate(383.67,553) rotate(-45)" font-size="7.6" text-anchor="middle" dominant-baseline="central" textLength="16" lengthAdjust="spacingAndGlyphs" fill="#1a1a1a">1988</text>
<text transform="translate(399.08,553) rotate(-45)" font-size="7.6" text-anchor="middle" dominant-baseline="central" textLength="16" lengthAdjust="spacingAndGlyphs" fill="#1a1a1a">1989</text>
<text transform="translate(414.49,553) rotate(-45)" font-size="7.6" text-anchor="middle" dominant-baseline="central" textLength="16" lengthAdjust="spacingAndGlyphs" fill="#1a1a1a">1990</text>
<text transform="translate(429.90,553) rotate(-45)" font-size="7.6" text-anchor="middle" dominant-baseline="central" textLength="16" lengthAdjust="spacingAndGlyphs" fill="#1a1a1a">1991</text>
<text transform="translate(445.31,553) rotate(-45)" font-size="7.6" text-anchor="middle" dominant-baseline="central" textLength="16" lengthAdjust="spacingAndGlyphs" fill="#1a1a1a">1992</text>
<text transform="translate(460.73,553) rotate(-45)" font-size="7.6" text-anchor="middle" dominant-baseline="central" textLength="16" lengthAdjust="spacingAndGlyphs" fill="#1a1a1a">1993</text>
<text transform="translate(476.14,553) rotate(-45)" font-size="7.6" text-anchor="middle" dominant-baseline="central" textLength="16" lengthAdjust="spacingAndGlyphs" fill="#1a1a1a">1994</text>
<text transform="translate(491.55,553) rotate(-45)" font-size="7.6" text-anchor="middle" dominant-baseline="central" textLength="16" lengthAdjust="spacingAndGlyphs" fill="#1a1a1a">1995</text>
<text transform="translate(506.96,553) rotate(-45)" font-size="7.6" text-anchor="middle" dominant-baseline="central" textLength="16" lengthAdjust="spacingAndGlyphs" fill="#1a1a1a">1996</text>
<text transform="translate(522.37,553) rotate(-45)" font-size="7.6" text-anchor="middle" dominant-baseline="central" textLength="16" lengthAdjust="spacingAndGlyphs" fill="#1a1a1a">1997</text>
<text transform="translate(537.79,553) rotate(-45)" font-size="7.6" text-anchor="middle" dominant-baseline="central" textLength="16" lengthAdjust="spacingAndGlyphs" fill="#1a1a1a">1998</text>
<text transform="translate(553.20,553) rotate(-45)" font-size="7.6" text-anchor="middle" dominant-baseline="central" textLength="16" lengthAdjust="spacingAndGlyphs" fill="#1a1a1a">1999</text>
<text transform="translate(568.61,553) rotate(-45)" font-size="7.6" text-anchor="middle" dominant-baseline="central" textLength="16" lengthAdjust="spacingAndGlyphs" fill="#1a1a1a">2000</text>
<text transform="translate(584.02,553) rotate(-45)" font-size="7.6" text-anchor="middle" dominant-baseline="central" textLength="16" lengthAdjust="spacingAndGlyphs" fill="#1a1a1a">2001</text>
<text transform="translate(599.43,553) rotate(-45)" font-size="7.6" text-anchor="middle" dominant-baseline="central" textLength="16" lengthAdjust="spacingAndGlyphs" fill="#1a1a1a">2002</text>
<text transform="translate(614.85,553) rotate(-45)" font-size="7.6" text-anchor="middle" dominant-baseline="central" textLength="16" lengthAdjust="spacingAndGlyphs" fill="#1a1a1a">2003</text>
<text transform="translate(630.26,553) rotate(-45)" font-size="7.6" text-anchor="middle" dominant-baseline="central" textLength="16" lengthAdjust="spacingAndGlyphs" fill="#1a1a1a">2004</text>
<text transform="translate(645.67,553) rotate(-45)" font-size="7.6" text-anchor="middle" dominant-baseline="central" textLength="16" lengthAdjust="spacingAndGlyphs" fill="#1a1a1a">2005</text>
<text transform="translate(661.08,553) rotate(-45)" font-size="7.6" text-anchor="middle" dominant-baseline="central" textLength="16" lengthAdjust="spacingAndGlyphs" fill="#1a1a1a">2006</text>
<text transform="translate(676.49,553) rotate(-45)" font-size="7.6" text-anchor="middle" dominant-baseline="central" textLength="16" lengthAdjust="spacingAndGlyphs" fill="#1a1a1a">2007</text>
<text transform="translate(691.91,553) rotate(-45)" font-size="7.6" text-anchor="middle" dominant-baseline="central" textLength="16" lengthAdjust="spacingAndGlyphs" fill="#1a1a1a">2008</text>
<text transform="translate(707.32,553) rotate(-45)" font-size="7.6" text-anchor="middle" dominant-baseline="central" textLength="16" lengthAdjust="spacingAndGlyphs" fill="#1a1a1a">2009</text>
<text transform="translate(722.73,553) rotate(-45)" font-size="7.6" text-anchor="middle" dominant-baseline="central" textLength="16" lengthAdjust="spacingAndGlyphs" fill="#1a1a1a">2010</text>
<text transform="translate(738.14,553) rotate(-45)" font-size="7.6" text-anchor="middle" dominant-baseline="central" textLength="16" lengthAdjust="spacingAndGlyphs" fill="#1a1a1a">2011</text>
<text transform="translate(753.55,553) rotate(-45)" font-size="7.6" text-anchor="middle" dominant-baseline="central" textLength="16" lengthAdjust="spacingAndGlyphs" fill="#1a1a1a">2012</text>
<text transform="translate(768.97,553) rotate(-45)" font-size="7.6" text-anchor="middle" dominant-baseline="central" textLength="16" lengthAdjust="spacingAndGlyphs" fill="#1a1a1a">2013</text>
<text transform="translate(784.38,553) rotate(-45)" font-size="7.6" text-anchor="middle" dominant-baseline="central" textLength="16" lengthAdjust="spacingAndGlyphs" fill="#1a1a1a">2014</text>
<text transform="translate(799.79,553) rotate(-45)" font-size="7.6" text-anchor="middle" dominant-baseline="central" textLength="16" lengthAdjust="spacingAndGlyphs" fill="#1a1a1a">2015</text>
<text transform="translate(815.20,553) rotate(-45)" font-size="7.6" text-anchor="middle" dominant-baseline="central" textLength="16" lengthAdjust="spacingAndGlyphs" fill="#1a1a1a">2016</text>
<text transform="translate(830.61,553) rotate(-45)" font-size="7.6" text-anchor="middle" dominant-baseline="central" textLength="16" lengthAdjust="spacingAndGlyphs" fill="#1a1a1a">2017</text>
<text transform="translate(846.03,553) rotate(-45)" font-size="7.6" text-anchor="middle" dominant-baseline="central" textLength="16" lengthAdjust="spacingAndGlyphs" fill="#1a1a1a">2018</text>
<text transform="translate(861.44,553) rotate(-45)" font-size="7.6" text-anchor="middle" dominant-baseline="central" textLength="16" lengthAdjust="spacingAndGlyphs" fill="#1a1a1a">2019</text>
<text transform="translate(876.85,553) rotate(-45)" font-size="7.6" text-anchor="middle" dominant-baseline="central" textLength="16" lengthAdjust="spacingAndGlyphs" fill="#1a1a1a">2020</text>
<text transform="translate(892.26,553) rotate(-45)" font-size="7.6" text-anchor="middle" dominant-baseline="central" textLength="16" lengthAdjust="spacingAndGlyphs" fill="#1a1a1a">2021</text>
<text transform="translate(23.8,283.3) rotate(-90)" font-size="17.8" text-anchor="middle" fill="#000">hour/year</text>
<rect x="51.5" y="571.3" width="895.3" height="63" rx="2" ry="2" fill="#f0f0f0" stroke="#d4d4d4" stroke-width="1"/>
<line x1="55.2" x2="76.5" y1="579.3" y2="579.3" stroke="#1f77b4" stroke-width="1.05"/>
<text transform="translate(83.8,583.1) scale(0.925,1)" font-size="10.5" fill="#1a1a1a">Australia</text>
<line x1="55.2" x2="76.5" y1="594.3" y2="594.3" stroke="#1f77b4" stroke-width="2.20"/>
<text transform="translate(83.8,598.1) scale(0.925,1)" font-size="10.5" fill="#1a1a1a">Austria</text>
<line x1="55.2" x2="76.5" y1="609.3" y2="609.3" stroke="#1f77b4" stroke-width="1.05" stroke-dasharray="3.89 1.68"/>
<text transform="translate(83.8,613.1) scale(0.925,1)" font-size="10.5" fill="#1a1a1a">Belgium</text>
<line x1="55.2" x2="76.5" y1="624.3" y2="624.3" stroke="#1f77b4" stroke-width="2.20" stroke-dasharray="8.14 3.52"/>
<text transform="translate(83.8,628.1) scale(0.925,1)" font-size="10.5" fill="#1a1a1a">Canada</text>
<line x1="142.5" x2="163.8" y1="579.3" y2="579.3" stroke="#aec7e8" stroke-width="1.05"/>
<text transform="translate(171.3,583.1) scale(0.925,1)" font-size="10.5" fill="#1a1a1a">Chile</text>
<line x1="142.5" x2="163.8" y1="594.3" y2="594.3" stroke="#aec7e8" stroke-width="2.20"/>
<text transform="translate(171.3,598.1) scale(0.925,1)" font-size="10.5" fill="#1a1a1a">Colombia</text>
<line x1="142.5" x2="163.8" y1="609.3" y2="609.3" stroke="#aec7e8" stroke-width="1.05" stroke-dasharray="3.89 1.68"/>
<text transform="translate(171.3,613.1) scale(0.925,1)" font-size="10.5" fill="#1a1a1a">Costa Rica</text>
<line x1="142.5" x2="163.8" y1="624.3" y2="624.3" stroke="#aec7e8" stroke-width="2.20" stroke-dasharray="8.14 3.52"/>
<text transform="translate(171.3,628.1) scale(0.925,1)" font-size="10.5" fill="#1a1a1a">Czech rep</text>
<line x1="235.8" x2="257.1" y1="579.3" y2="579.3" stroke="#ff7f0e" stroke-width="1.05"/>
<text transform="translate(264.5,583.1) scale(0.925,1)" font-size="10.5" fill="#1a1a1a">Denmark</text>
<line x1="235.8" x2="257.1" y1="594.3" y2="594.3" stroke="#ff7f0e" stroke-width="2.20"/>
<text transform="translate(264.5,598.1) scale(0.925,1)" font-size="10.5" fill="#1a1a1a">Estonia</text>
<line x1="235.8" x2="257.1" y1="609.3" y2="609.3" stroke="#ff7f0e" stroke-width="1.05" stroke-dasharray="3.89 1.68"/>
<text transform="translate(264.5,613.1) scale(0.925,1)" font-size="10.5" fill="#1a1a1a">Finland</text>
<line x1="235.8" x2="257.1" y1="624.3" y2="624.3" stroke="#ff7f0e" stroke-width="2.20" stroke-dasharray="8.14 3.52"/>
<text transform="translate(264.5,628.1) scale(0.925,1)" font-size="10.5" fill="#1a1a1a">France</text>
<line x1="325.0" x2="346.3" y1="579.3" y2="579.3" stroke="#ffbb78" stroke-width="1.05"/>
<text transform="translate(353.8,583.1) scale(0.925,1)" font-size="10.5" fill="#1a1a1a">Germany</text>
<line x1="325.0" x2="346.3" y1="594.3" y2="594.3" stroke="#ffbb78" stroke-width="2.20"/>
<text transform="translate(353.8,598.1) scale(0.925,1)" font-size="10.5" fill="#1a1a1a">Greece</text>
<line x1="325.0" x2="346.3" y1="609.3" y2="609.3" stroke="#ffbb78" stroke-width="1.05" stroke-dasharray="3.89 1.68"/>
<text transform="translate(353.8,613.1) scale(0.925,1)" font-size="10.5" fill="#1a1a1a">Hungary</text>
<line x1="325.0" x2="346.3" y1="624.3" y2="624.3" stroke="#ffbb78" stroke-width="2.20" stroke-dasharray="8.14 3.52"/>
<text transform="translate(353.8,628.1) scale(0.925,1)" font-size="10.5" fill="#1a1a1a">Iceland</text>
<line x1="413.8" x2="435.1" y1="579.3" y2="579.3" stroke="#2ca02c" stroke-width="1.05"/>
<text transform="translate(442.5,583.1) scale(0.925,1)" font-size="10.5" fill="#1a1a1a">Ireland</text>
<line x1="413.8" x2="435.1" y1="594.3" y2="594.3" stroke="#2ca02c" stroke-width="2.20"/>
<text transform="translate(442.5,598.1) scale(0.925,1)" font-size="10.5" fill="#1a1a1a">Israel</text>
<line x1="413.8" x2="435.1" y1="609.3" y2="609.3" stroke="#2ca02c" stroke-width="1.05" stroke-dasharray="3.89 1.68"/>
<text transform="translate(442.5,613.1) scale(0.925,1)" font-size="10.5" fill="#1a1a1a">Italy</text>
<line x1="413.8" x2="435.1" y1="624.3" y2="624.3" stroke="#2ca02c" stroke-width="2.20" stroke-dasharray="8.14 3.52"/>
<text transform="translate(442.5,628.1) scale(0.925,1)" font-size="10.5" fill="#1a1a1a">Japan</text>
<line x1="493.8" x2="515.1" y1="579.3" y2="579.3" stroke="#98df8a" stroke-width="1.05"/>
<text transform="translate(522.5,583.1) scale(0.925,1)" font-size="10.5" fill="#1a1a1a">Korea</text>
<line x1="493.8" x2="515.1" y1="594.3" y2="594.3" stroke="#98df8a" stroke-width="2.20"/>
<text transform="translate(522.5,598.1) scale(0.925,1)" font-size="10.5" fill="#1a1a1a">Latvia</text>
<line x1="493.8" x2="515.1" y1="609.3" y2="609.3" stroke="#98df8a" stroke-width="1.05" stroke-dasharray="3.89 1.68"/>
<text transform="translate(522.5,613.1) scale(0.925,1)" font-size="10.5" fill="#1a1a1a">Lithuania</text>
<line x1="493.8" x2="515.1" y1="624.3" y2="624.3" stroke="#98df8a" stroke-width="2.20" stroke-dasharray="8.14 3.52"/>
<text transform="translate(522.5,628.1) scale(0.925,1)" font-size="10.5" fill="#1a1a1a">Luxembourg</text>
<line x1="598.8" x2="620.1" y1="579.3" y2="579.3" stroke="#d62728" stroke-width="1.05"/>
<text transform="translate(627.5,583.1) scale(0.925,1)" font-size="10.5" fill="#1a1a1a">Mexico</text>
<line x1="598.8" x2="620.1" y1="594.3" y2="594.3" stroke="#d62728" stroke-width="2.20"/>
<text transform="translate(627.5,598.1) scale(0.925,1)" font-size="10.5" fill="#1a1a1a">Netherlands</text>
<line x1="598.8" x2="620.1" y1="609.3" y2="609.3" stroke="#d62728" stroke-width="1.05" stroke-dasharray="3.89 1.68"/>
<text transform="translate(627.5,613.1) scale(0.925,1)" font-size="10.5" fill="#1a1a1a">New Zealand</text>
<line x1="598.8" x2="620.1" y1="624.3" y2="624.3" stroke="#d62728" stroke-width="2.20" stroke-dasharray="8.14 3.52"/>
<text transform="translate(627.5,628.1) scale(0.925,1)" font-size="10.5" fill="#1a1a1a">Norway</text>
<line x1="705.0" x2="726.3" y1="579.3" y2="579.3" stroke="#ff9896" stroke-width="1.05"/>
<text transform="translate(733.5,583.1) scale(0.925,1)" font-size="10.5" fill="#1a1a1a">Poland</text>
<line x1="705.0" x2="726.3" y1="594.3" y2="594.3" stroke="#ff9896" stroke-width="2.20"/>
<text transform="translate(733.5,598.1) scale(0.925,1)" font-size="10.5" fill="#1a1a1a">Portugal</text>
<line x1="705.0" x2="726.3" y1="609.3" y2="609.3" stroke="#ff9896" stroke-width="1.05" stroke-dasharray="3.89 1.68"/>
<text transform="translate(733.5,613.1) scale(0.925,1)" font-size="10.5" fill="#1a1a1a">Slovak rep</text>
<line x1="705.0" x2="726.3" y1="624.3" y2="624.3" stroke="#ff9896" stroke-width="2.20" stroke-dasharray="8.14 3.52"/>
<text transform="translate(733.5,628.1) scale(0.925,1)" font-size="10.5" fill="#1a1a1a">Slovenia</text>
<line x1="798.8" x2="820.1" y1="579.3" y2="579.3" stroke="#9467bd" stroke-width="1.05"/>
<text transform="translate(827.5,583.1) scale(0.925,1)" font-size="10.5" fill="#1a1a1a">Spain</text>
<line x1="798.8" x2="820.1" y1="594.3" y2="594.3" stroke="#9467bd" stroke-width="2.20"/>
<text transform="translate(827.5,598.1) scale(0.925,1)" font-size="10.5" fill="#1a1a1a">Sweden</text>
<line x1="798.8" x2="820.1" y1="609.3" y2="609.3" stroke="#9467bd" stroke-width="1.05" stroke-dasharray="3.89 1.68"/>
<text transform="translate(827.5,613.1) scale(0.925,1)" font-size="10.5" fill="#1a1a1a">Swiss</text>
<line x1="882.0" x2="903.3" y1="579.3" y2="579.3" stroke="#9467bd" stroke-width="2.20" stroke-dasharray="8.14 3.52"/>
<text transform="translate(910.0,583.1) scale(0.925,1)" font-size="10.5" fill="#1a1a1a">Türkiye</text>
<line x1="882.0" x2="903.3" y1="594.3" y2="594.3" stroke="#c5b0d5" stroke-width="1.05"/>
<text transform="translate(910.0,598.1) scale(0.925,1)" font-size="10.5" fill="#1a1a1a">UK</text>
<line x1="882.0" x2="903.3" y1="609.3" y2="609.3" stroke="#c5b0d5" stroke-width="2.20"/>
<text transform="translate(910.0,613.1) scale(0.925,1)" font-size="10.5" fill="#1a1a1a">USA</text>
</svg></body></html>
